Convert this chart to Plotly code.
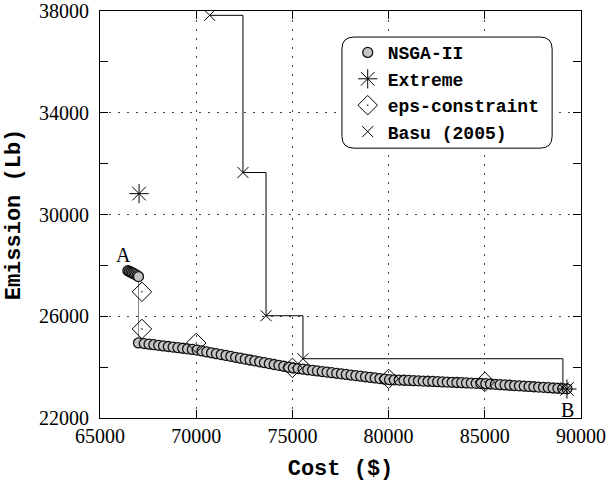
import plotly.graph_objects as go

# ---------------- data ----------------
nsga_cost = [66450, 66530, 66610, 66690, 66770, 66850, 66930, 67000,
             67000, 67300, 67550, 67800, 68050, 68300, 68550, 68800, 69050, 69300, 69550, 69800,
             70050, 70300, 70550, 70800, 71050, 71300, 71550, 71800, 72050, 72300, 72550, 72800,
             73050, 73300, 73550, 73800, 74050, 74300, 74550, 74800,
             75050, 75300, 75550, 75800, 76050, 76300, 76550, 76800, 77050, 77300, 77550, 77800,
             78050, 78300, 78550, 78800, 79050, 79300, 79550, 79800,
             80050, 80300, 80550, 80800, 81050, 81300, 81550, 81800, 82050, 82300, 82550, 82800,
             83050, 83300, 83550, 83800, 84050, 84300, 84550, 84800,
             85050, 85300, 85550, 85800, 86050, 86300, 86550, 86800, 87050, 87300, 87550, 87800,
             88050, 88300, 88550, 88800, 89050, 89270]
nsga_emis = [27790, 27760, 27730, 27700, 27670, 27640, 27600, 27560,
             24950, 24927, 24904, 24881, 24858, 24834, 24811, 24788, 24765, 24742, 24719, 24696,
             24670, 24635, 24599, 24564, 24529, 24493, 24458, 24423, 24387, 24352, 24316, 24281,
             24246, 24210, 24175, 24140, 24104, 24069, 24034, 23998,
             23965, 23942, 23919, 23896, 23873, 23850, 23827, 23804, 23781, 23758, 23735, 23712,
             23689, 23666, 23643, 23620, 23597, 23574, 23551, 23528,
             23508, 23500, 23492, 23484, 23476, 23468, 23460, 23452, 23444, 23436, 23428, 23420,
             23412, 23404, 23396, 23388, 23380, 23372, 23364, 23356,
             23348, 23336, 23324, 23312, 23300, 23288, 23276, 23264, 23252, 23240, 23228, 23216,
             23204, 23192, 23180, 23168, 23156, 23145]

extreme_cost = [67030, 89270]
extreme_emis = [30820, 23140]

eps_cost = [67180, 67180, 70000, 75000, 80000, 85000]
eps_emis = [26960, 25500, 24950, 23970, 23540, 23420]

basu_cost = [70700, 72430, 73630, 75550, 89060]
basu_emis = [37830, 31650, 26020, 24330, 23180]

x_ticks = [65000, 70000, 75000, 80000, 85000, 90000]
y_ticks = [22000, 26000, 30000, 34000, 38000]

labels = [("A", 66200, 28420), ("B", 89300, 22320)]

# ---------------- figure ----------------
mono = "Liberation Mono"
serif = "Liberation Serif"

fig = go.Figure()

# NSGA-II connecting line (no legend)
fig.add_trace(go.Scatter(x=nsga_cost, y=nsga_emis, mode="lines",
                         line=dict(color="#888888", width=1),
                         showlegend=False, hoverinfo="skip"))
# Basu step line (no legend)
fig.add_trace(go.Scatter(x=basu_cost, y=basu_emis, mode="lines",
                         line=dict(color="black", width=1, shape="hv"),
                         showlegend=False, hoverinfo="skip"))

fig.add_trace(go.Scatter(x=nsga_cost, y=nsga_emis, mode="markers", name="NSGA-II",
                         marker=dict(symbol="circle", size=10, color="#c4c4c4",
                                     line=dict(color="#111111", width=1.3))))
fig.add_trace(go.Scatter(x=extreme_cost, y=extreme_emis, mode="markers", name="Extreme",
                         marker=dict(symbol="asterisk-open", size=16, color="black",
                                     line=dict(color="black", width=1))))
fig.add_trace(go.Scatter(x=eps_cost, y=eps_emis, mode="markers", name="eps-constraint",
                         marker=dict(symbol="diamond-open-dot", size=15, color="black",
                                     line=dict(color="black", width=1))))
fig.add_trace(go.Scatter(x=basu_cost, y=basu_emis, mode="markers", name="Basu (2005)",
                         marker=dict(symbol="x-thin-open", size=11, color="black",
                                     line=dict(color="black", width=1))))

for txt, xx, yy in labels:
    fig.add_annotation(x=xx, y=yy, text=txt, showarrow=False,
                       font=dict(family=serif, size=20, color="black"))

# rounded legend box
x0, x1, y0, y1 = 0.503, 0.940, 0.663, 0.936
rx, ry = 12 / 481, 12 / 407
path = (f"M {x0+rx},{y0} L {x1-rx},{y0} Q {x1},{y0} {x1},{y0+ry} "
        f"L {x1},{y1-ry} Q {x1},{y1} {x1-rx},{y1} "
        f"L {x0+rx},{y1} Q {x0},{y1} {x0},{y1-ry} "
        f"L {x0},{y0+ry} Q {x0},{y0} {x0+rx},{y0} Z")
fig.add_shape(type="path", path=path, xref="paper", yref="paper",
              line=dict(color="black", width=1), fillcolor="white", layer="above")

grid_dash = "2px,7px"
fig.update_xaxes(range=[65000, 90000], tickvals=x_ticks, ticktext=[str(v) for v in x_ticks],
                 showline=True, linecolor="black", linewidth=1, mirror="ticks",
                 ticks="inside", ticklen=8, tickcolor="black", automargin=False,
                 showgrid=True, gridcolor="#444444", gridwidth=1, griddash=grid_dash,
                 zeroline=False,
                 tickfont=dict(family=serif, size=20, color="black"),
                 title=dict(text="Cost ($)", font=dict(family=mono, size=22, color="black", weight="bold"),
                            standoff=14))
fig.update_yaxes(range=[22000, 38000], tickvals=y_ticks, ticktext=[str(v) for v in y_ticks],
                 showline=True, linecolor="black", linewidth=1, mirror="ticks",
                 ticks="inside", ticklen=8, tickcolor="black", automargin=False,
                 minor=dict(dtick=2000, tick0=22000, ticks="inside", ticklen=8,
                            tickcolor="black", showgrid=False),
                 showgrid=True, gridcolor="#444444", gridwidth=1, griddash=grid_dash,
                 zeroline=False, ticklabelstandoff=6,
                 tickfont=dict(family=serif, size=20, color="black"),
                 title=dict(text="Emission (Lb)", font=dict(family=mono, size=22, color="black", weight="bold"),
                            standoff=12))

fig.update_layout(
    width=607, height=482,
    margin=dict(l=100, r=26, t=11, b=64, autoexpand=False),
    paper_bgcolor="white", plot_bgcolor="white",
    showlegend=True,
    legend=dict(x=0.515, y=0.943, xanchor="left", yanchor="top",
                bgcolor="rgba(0,0,0,0)", borderwidth=0, tracegroupgap=0,
                font=dict(family=mono, size=18, color="black", weight="bold")),
)

fig.write_html("out.html")
